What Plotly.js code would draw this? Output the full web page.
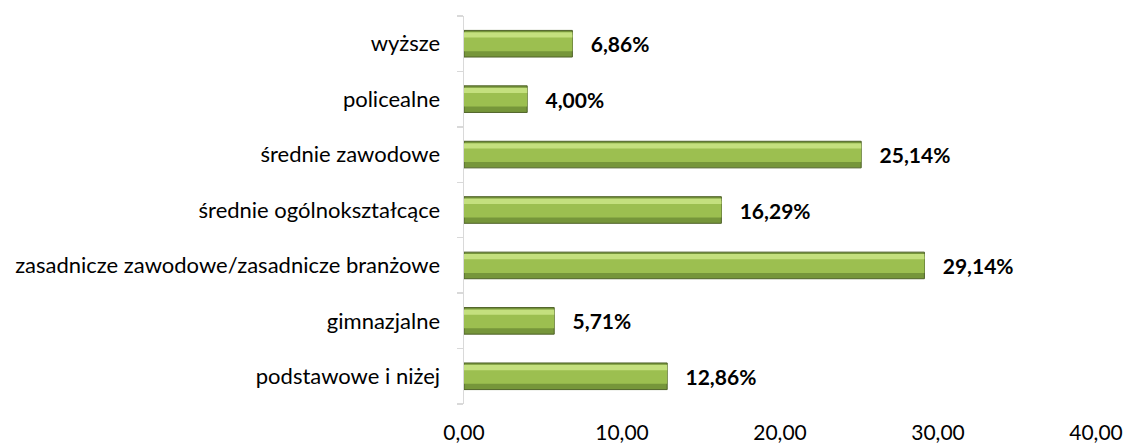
<!DOCTYPE html>
<html>
<head>
<meta charset="utf-8">
<script src="https://cdn.plot.ly/plotly-3.0.1.min.js"></script>
<style>html,body{margin:0;padding:0;background:#fff;}#chart{width:1126px;height:446px;}</style>
</head>
<body>
<div id="chart"></div>
<script>
const categories = ["podstawowe i niżej", "gimnazjalne", "zasadnicze zawodowe/zasadnicze branżowe", "średnie ogólnokształcące", "średnie zawodowe", "policealne", "wyższe"];
const values = [12.86, 5.71, 29.14, 16.29, 25.14, 4.00, 6.86];
const xTicks = [0, 10, 20, 30, 40];

const font = "Lato, 'Open Sans', sans-serif";
const W = 0.48;

const traces = [
  // dark base (bottom shade + outline)
  {type: 'bar', orientation: 'h', y: categories, x: values, width: W, offset: -W/2,
   marker: {color: '#76963a', line: {color: '#4f6228', width: 1}},
   texttemplate: '\u00a0\u00a0\u00a0%{x:.2f}%', textposition: 'outside', cliponaxis: false,
   textfont: {family: font, size: 21, color: '#000', weight: 'bold'}, hoverinfo: 'skip'},
  // main body
  {type: 'bar', orientation: 'h', y: categories, x: values, width: W*0.62, offset: -W/2 + W*0.22,
   marker: {color: '#9cbf50', line: {width: 0}}, hoverinfo: 'skip'},
  // highlight near top
  {type: 'bar', orientation: 'h', y: categories, x: values, width: W*0.2, offset: W/2 - W*0.27,
   marker: {color: '#c4e07e', line: {width: 0}}, hoverinfo: 'skip'}
];

const layout = {
  width: 1126, height: 446,
  margin: {l: 464, r: 30, t: 16, b: 42},
  paper_bgcolor: '#fff', plot_bgcolor: '#fff',
  separators: ', ',
  barmode: 'overlay',
  showlegend: false,
  font: {family: font, size: 22, color: '#000'},
  xaxis: {range: [0, 40], tickvals: xTicks, tickformat: '.2f', showgrid: false, zeroline: false,
          showline: false, ticks: '', ticklabelstandoff: 14, tickfont: {family: font, size: 21, color: '#000'}, fixedrange: true},
  yaxis: {type: 'category', categoryorder: 'array', categoryarray: categories, showgrid: false, zeroline: false,
          showline: true, linecolor: '#d9d9d9', linewidth: 1.5, ticks: 'outside', tickson: 'boundaries', ticklen: 6,
          tickcolor: '#d9d9d9', tickwidth: 1.5, ticklabelstandoff: 18, tickfont: {family: font, size: 22, color: '#000'},
          range: [-0.5, 6.5], fixedrange: true}
};

Plotly.newPlot('chart', traces, layout, {displayModeBar: false, staticPlot: true});
</script>
</body>
</html>
